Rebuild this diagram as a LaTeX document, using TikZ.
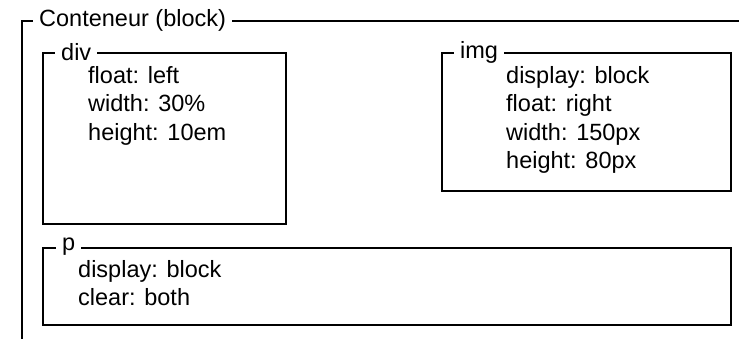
\documentclass[tikz,border=0pt]{standalone}
\usepackage{fontspec}
\setmainfont{Liberation Sans}
\usetikzlibrary{positioning}

\tikzset{
  boite/.style={draw, line width=1.9pt, anchor=north west, inner sep=0pt},
  legende/.style={fill=white, inner xsep=6pt, inner ysep=1pt},
  regles/.style={anchor=north west, align=left, inner sep=0pt}
}

\begin{document}
\begin{tikzpicture}[x=1pt, y=-1pt, font=\fontsize{23.5}{28.4}\selectfont]
\clip (0,0) rectangle (739,339);
\fill[white] (0,0) rectangle (739,339);

\node[boite, minimum width=760pt, minimum height=360pt] (conteneur) at (21,20) {};
\node[legende, right=12pt of conteneur.north west] (legConteneur) {Conteneur (block)};

\node[boite, minimum width=243pt, minimum height=171pt] (div) at (42,52) {};
\node[legende, right=13pt of div.north west] (legDiv) {div};
\node[regles] (reglesDiv) at (88,66) {float: left\\width: 30\%\\height: 10em};

\node[boite, minimum width=289pt, minimum height=138pt] (img) at (441,52) {};
\node[legende, right=13pt of img.north west] (legImg) {img};
\node[regles] (reglesImg) at (506,66) {display: block\\float: right\\width: 150px\\height: 80px};

\node[boite, minimum width=688pt, minimum height=77pt] (para) at (42,247) {};
\node[legende, right=14pt of para.north west] (legPara) {p};
\node[regles] (reglesPara) at (78,260) {display: block\\clear: both};
\end{tikzpicture}
\end{document}
